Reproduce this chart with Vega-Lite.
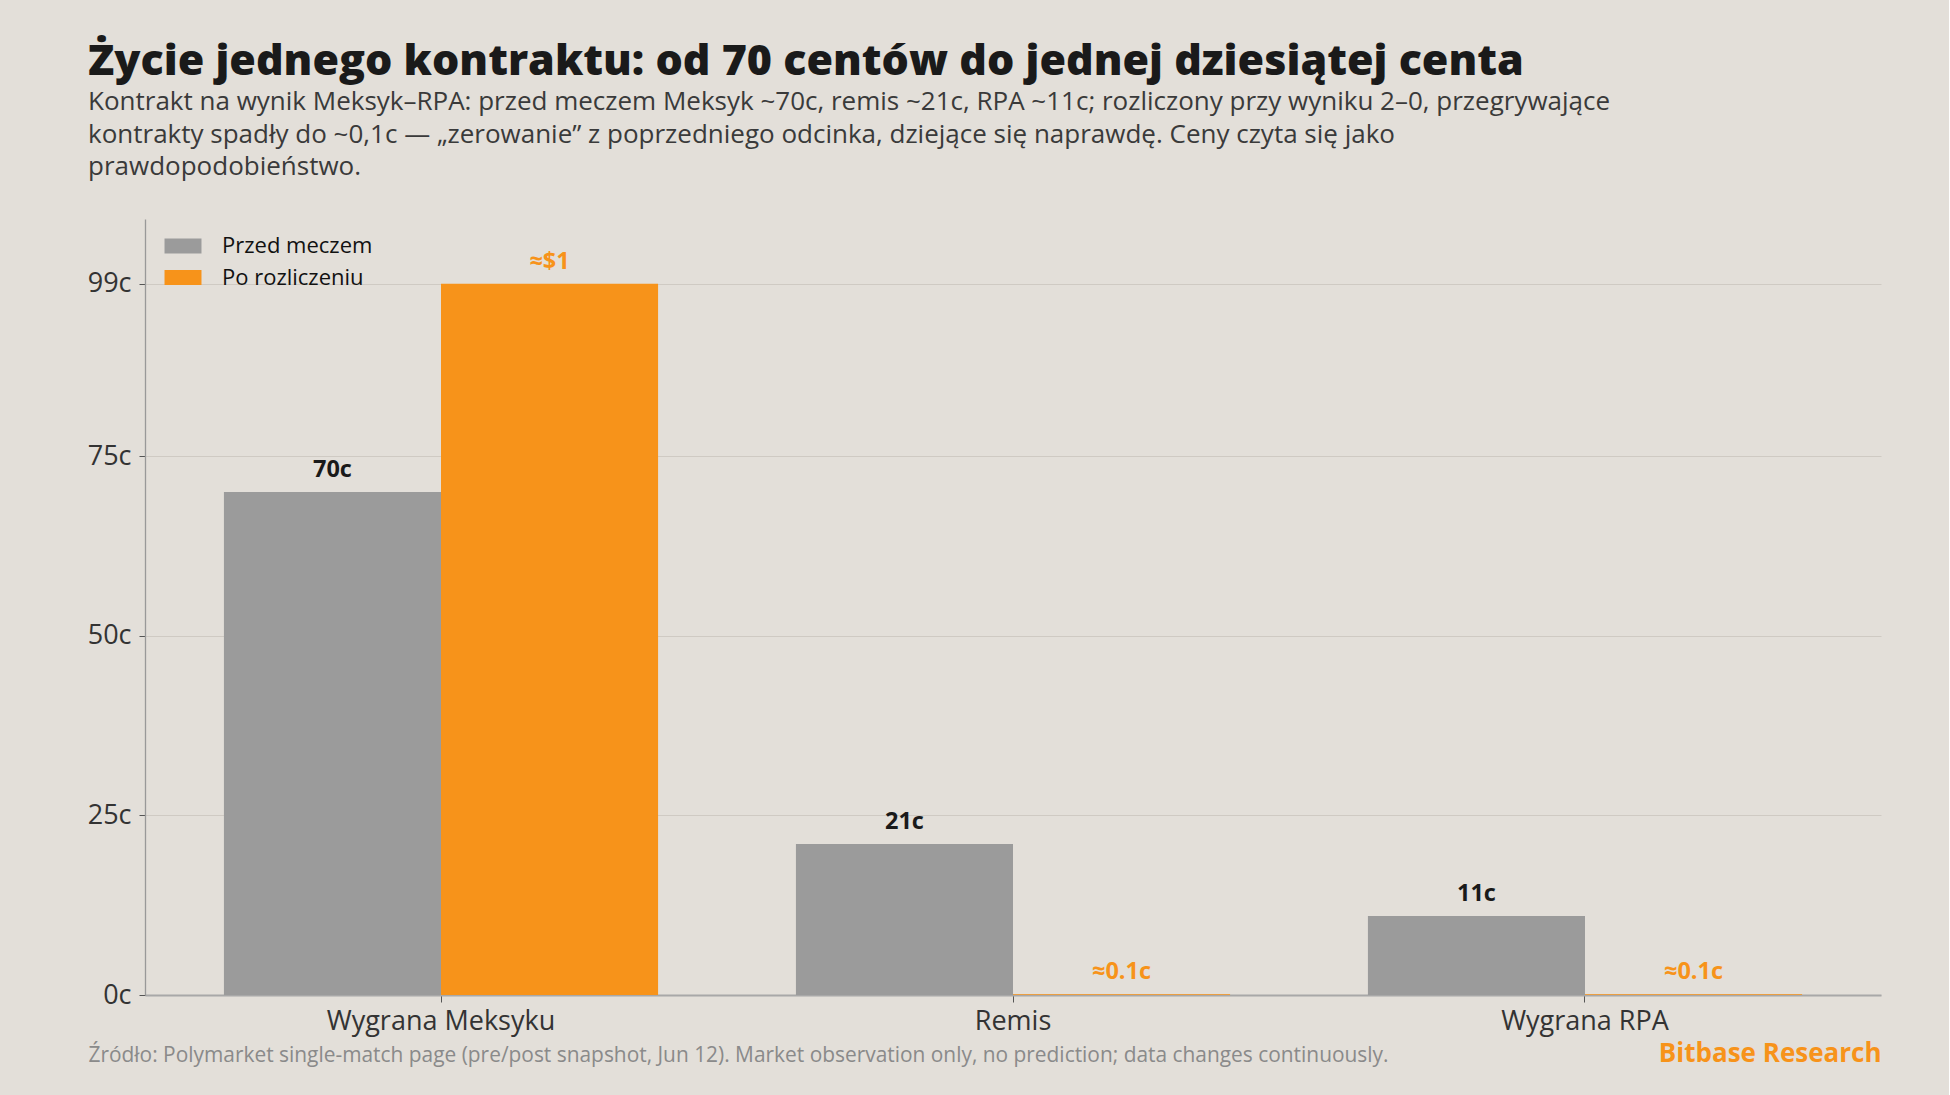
{
  "$schema": "https://vega.github.io/schema/vega-lite/v6.json",
  "autosize": {"type": "none"},
  "padding": {"left": 145, "top": 219, "right": 68, "bottom": 100},
  "width": 1736,
  "height": 776,
  "background": "#e3dfd9",
  "title": {
    "text": "Życie jednego kontraktu: od 70 centów do jednej dziesiątej centa",
    "subtitle": [
      "Kontrakt na wynik Meksyk–RPA: przed meczem Meksyk ~70c, remis ~21c, RPA ~11c; rozliczony przy wyniku 2–0, przegrywające",
      "kontrakty spadły do ~0,1c — „zerowanie” z poprzedniego odcinka, dziejące się naprawdę. Ceny czyta się jako",
      "prawdopodobieństwo."
    ],
    "anchor": "start",
    "frame": "group",
    "dx": -57,
    "offset": 39,
    "font": "Open Sans",
    "fontSize": 43,
    "fontWeight": 800,
    "color": "#1a1a1a",
    "subtitleFont": "Open Sans",
    "subtitleFontSize": 26,
    "subtitleColor": "#3a3a3a",
    "subtitleLineHeight": 32.5,
    "subtitlePadding": 5
  },
  "data": {
    "values": [
      {"wynik": "Wygrana Meksyku", "faza": "Przed meczem", "cena": 70, "etykieta": "70c"},
      {"wynik": "Wygrana Meksyku", "faza": "Po rozliczeniu", "cena": 99, "etykieta": "≈$1"},
      {"wynik": "Remis", "faza": "Przed meczem", "cena": 21, "etykieta": "21c"},
      {"wynik": "Remis", "faza": "Po rozliczeniu", "cena": 0.1, "etykieta": "≈0.1c"},
      {"wynik": "Wygrana RPA", "faza": "Przed meczem", "cena": 11, "etykieta": "11c"},
      {"wynik": "Wygrana RPA", "faza": "Po rozliczeniu", "cena": 0.1, "etykieta": "≈0.1c"}
    ]
  },
  "encoding": {
    "x": {
      "field": "wynik",
      "type": "nominal",
      "sort": ["Wygrana Meksyku", "Remis", "Wygrana RPA"],
      "scale": {"paddingInner": 0.241, "paddingOuter": 0.138},
      "axis": {
        "title": "Źródło: Polymarket single-match page (pre/post snapshot, Jun 12). Market observation only, no prediction; data changes continuously.",
        "titleX": -57,
        "titleY": 66,
        "titleAlign": "left",
        "titleBaseline": "alphabetic",
        "titleFont": "Open Sans",
        "titleFontSize": 20.9,
        "titleFontWeight": "normal",
        "titleColor": "#8a8a8a",
        "labelAngle": 0,
        "labelLimit": 0,
        "labelFont": "Open Sans",
        "labelFontSize": 27,
        "labelColor": "#333333",
        "labelPadding": 6,
        "tickSize": 7,
        "tickColor": "#555555",
        "tickWidth": 1,
        "domainColor": "#a8a8a8",
        "domainWidth": 2
      }
    },
    "xOffset": {
      "field": "faza",
      "type": "nominal",
      "sort": ["Przed meczem", "Po rozliczeniu"],
      "scale": {"paddingInner": 0, "paddingOuter": 0}
    },
    "y": {
      "field": "cena",
      "type": "quantitative",
      "scale": {"domain": [0, 108], "nice": false},
      "axis": {
        "values": [0, 25, 50, 75, 99],
        "labelExpr": "datum.value + 'c'",
        "title": "Bitbase Research",
        "titleAngle": 0,
        "titleX": 1736,
        "titleY": 842,
        "titleAlign": "right",
        "titleBaseline": "alphabetic",
        "titleFont": "Open Sans",
        "titleFontSize": 26,
        "titleFontWeight": "bold",
        "titleColor": "#f7931a",
        "labelFont": "Open Sans",
        "labelFontSize": 27,
        "labelColor": "#333333",
        "labelPadding": 8,
        "tickSize": 6,
        "tickColor": "#555555",
        "domainColor": "#999999",
        "domainWidth": 1.3,
        "grid": true,
        "gridColor": "#cfcac3",
        "gridWidth": 1
      }
    }
  },
  "layer": [
    {
      "mark": {"type": "bar"},
      "encoding": {
        "color": {
          "field": "faza",
          "type": "nominal",
          "sort": ["Przed meczem", "Po rozliczeniu"],
          "scale": {"domain": ["Przed meczem", "Po rozliczeniu"], "range": ["#9b9b9b", "#f7931a"]},
          "legend": {
            "title": null,
            "orient": "none",
            "legendX": 26,
            "legendY": 15,
            "padding": 0,
            "symbolType": "M-1.54,-0.625H1.54V0.625H-1.54Z",
            "symbolSize": 576,
            "symbolStrokeWidth": 0,
            "symbolOpacity": 1,
            "labelFont": "Open Sans",
            "labelFontSize": 22,
            "labelColor": "#111111",
            "labelOffset": 27,
            "rowPadding": 8.5
          }
        }
      }
    },
    {
      "mark": {"type": "text", "baseline": "alphabetic", "dy": -15, "font": "Open Sans", "fontSize": 23.5, "fontWeight": "bold"},
      "encoding": {
        "text": {"field": "etykieta"},
        "color": {
          "condition": {"test": "datum.faza === 'Po rozliczeniu'", "value": "#f7931a"},
          "value": "#1a1a1a"
        }
      }
    }
  ],
  "config": {
    "view": {"stroke": null},
    "font": "Open Sans"
  }
}
